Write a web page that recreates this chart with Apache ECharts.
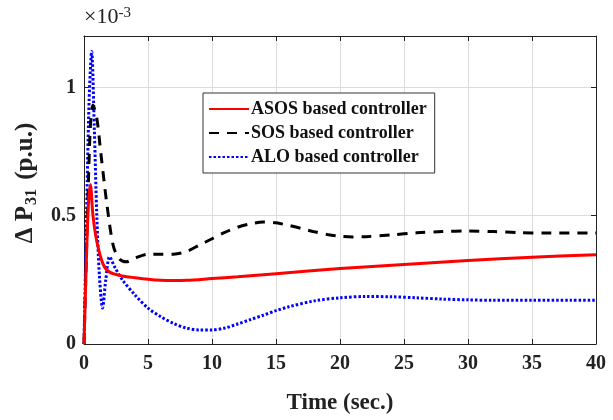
<!DOCTYPE html>
<html>
<head>
<meta charset="utf-8">
<script src="https://cdn.jsdelivr.net/npm/echarts@6/dist/echarts.min.js"></script>
<style>
    html, body { margin: 0; padding: 0; background: #fff; }
    #chart { width: 613px; height: 420px; }
</style>
</head>
<body>
<div id="chart"></div>
<script>
    // values in units of 1e-3 p.u.
    var asosTime = [0, 0.2, 0.35, 0.5, 0.7, 1, 1.5, 2, 3, 4, 5, 6, 7, 8, 10, 12, 15, 20, 25, 30, 35, 40];
    var asosVal = [0, 0.35, 0.55, 0.62, 0.5, 0.4, 0.31, 0.28, 0.265, 0.258, 0.252, 0.248, 0.247, 0.248, 0.255, 0.262, 0.274, 0.294, 0.31, 0.325, 0.338, 0.348];

    var sosTime = [0, 0.3, 0.5, 0.7, 1, 1.3, 1.8, 2.3, 2.8, 3.3, 4, 5, 6, 7, 8, 9, 10, 11, 12, 13, 14, 15, 16, 17, 18, 19, 20, 21, 22, 24, 26, 28, 30, 32, 34, 36, 40];
    var sosVal = [0, 0.55, 0.85, 0.93, 0.88, 0.75, 0.54, 0.38, 0.33, 0.32, 0.335, 0.35, 0.35, 0.35, 0.36, 0.385, 0.41, 0.435, 0.455, 0.468, 0.475, 0.472, 0.462, 0.45, 0.437, 0.427, 0.42, 0.417, 0.418, 0.425, 0.433, 0.438, 0.44, 0.438, 0.434, 0.432, 0.432];

    var aloTime = [0, 0.2, 0.4, 0.6, 0.8, 1.0, 1.2, 1.45, 1.7, 2.0, 2.4, 3, 4, 5, 6, 7, 8, 9, 10, 11, 12, 13, 14, 15, 16, 18, 20, 22, 24, 26, 28, 30, 32, 35, 38, 40];
    var aloVal = [0, 0.5, 0.95, 1.14, 0.85, 0.5, 0.27, 0.14, 0.25, 0.34, 0.3, 0.25, 0.19, 0.14, 0.106, 0.08, 0.062, 0.055, 0.055, 0.062, 0.078, 0.095, 0.112, 0.13, 0.145, 0.168, 0.18, 0.185, 0.184, 0.18, 0.175, 0.172, 0.17, 0.17, 0.17, 0.17];

    var seriesNames = ['ASOS based controller', 'SOS based controller', 'ALO based controller'];

    function pairs(t, v) {
        var out = [];
        for (var i = 0; i < t.length; i++) out.push([t[i], v[i]]);
        return out;
    }

    var font = 'Liberation Serif';
    var myChart = echarts.init(document.getElementById('chart'));

    var option = {
        animation: false,
        textStyle: { fontFamily: font },
        grid: { left: 84, right: 17, top: 36, bottom: 76 },
        graphic: [{
            type: 'text',
            left: 84,
            top: 6,
            style: {
                text: '{a|×10}{b|-3}',
                rich: {
                    a: { fontFamily: font, fontSize: 22, fill: '#222' },
                    b: { fontFamily: font, fontSize: 15, fill: '#222', verticalAlign: 'top', padding: [0, 0, 6, 0] }
                }
            }
        }],
        legend: {
            show: true,
            orient: 'vertical',
            left: 203,
            top: 93,
            padding: [7, 8, 7, 5],
            itemWidth: 40,
            itemHeight: 14,
            itemGap: 6,
            borderColor: '#333',
            borderWidth: 1,
            backgroundColor: '#fff',
            itemStyle: { opacity: 0 },
            textStyle: { fontFamily: font, fontWeight: 'bold', fontSize: 18, color: '#111', padding: [0, 0, 0, -3] },
            data: seriesNames
        },
        xAxis: [{
            type: 'value',
            min: 0, max: 40, interval: 5,
            name: 'Time (sec.)',
            nameLocation: 'middle',
            nameGap: 48,
            nameTextStyle: { fontFamily: font, fontWeight: 'bold', fontSize: 23, color: '#222' },
            axisLine: { show: true, lineStyle: { color: '#222', width: 1 } },
            axisTick: { show: true, inside: true, length: 5, lineStyle: { color: '#222' } },
            axisLabel: { fontFamily: font, fontWeight: 'bold', fontSize: 20, color: '#222', margin: 10 },
            splitLine: { show: true, lineStyle: { color: '#dcdcdc', width: 1 } }
        }, {
            type: 'value',
            position: 'top',
            min: 0, max: 40, interval: 5,
            axisLine: { show: true, onZero: false, lineStyle: { color: '#222', width: 1 } },
            axisTick: { show: true, inside: true, length: 5, lineStyle: { color: '#222' } },
            axisLabel: { show: false },
            splitLine: { show: false }
        }],
        yAxis: [{
            type: 'value',
            min: 0, max: 1.2, interval: 0.5,
            name: '{a|Δ P}{s|31}{a| (p.u.)}',
            nameLocation: 'middle',
            nameGap: 42,
            nameRotate: 90,
            nameTextStyle: {
                padding: [0, 0, 0, 14],
                rich: {
                    a: { fontFamily: font, fontWeight: 'bold', fontSize: 25, color: '#222' },
                    s: { fontFamily: font, fontWeight: 'bold', fontSize: 16, color: '#222', verticalAlign: 'bottom', padding: [14, 3, 0, 1] }
                }
            },
            axisLine: { show: true, onZero: false, lineStyle: { color: '#222', width: 1 } },
            axisTick: { show: true, inside: true, length: 5, lineStyle: { color: '#222' } },
            axisLabel: { fontFamily: font, fontWeight: 'bold', fontSize: 20, color: '#222', margin: 8, showMaxLabel: false },
            splitLine: { show: true, lineStyle: { color: '#dcdcdc', width: 1 } }
        }, {
            type: 'value',
            position: 'right',
            min: 0, max: 1.2, interval: 0.5,
            axisLine: { show: true, onZero: false, lineStyle: { color: '#222', width: 1 } },
            axisTick: { show: true, inside: true, length: 5, lineStyle: { color: '#222' } },
            axisLabel: { show: false },
            splitLine: { show: false }
        }],
        series: [{
            name: seriesNames[0],
            type: 'line',
            symbol: 'none',
            smooth: 0.3,
            data: pairs(asosTime, asosVal),
            lineStyle: { color: '#ff0000', width: 3, type: 'solid' },
            itemStyle: { color: '#ff0000' },
            z: 4
        }, {
            name: seriesNames[1],
            type: 'line',
            symbol: 'none',
            smooth: 0.3,
            data: pairs(sosTime, sosVal),
            lineStyle: { color: '#000', width: 3, type: [10, 8] },
            itemStyle: { color: '#000' },
            z: 3
        }, {
            name: seriesNames[2],
            type: 'line',
            symbol: 'none',
            smooth: 0.3,
            data: pairs(aloTime, aloVal),
            lineStyle: { color: '#0000ff', width: 3, type: [2.5, 2] },
            itemStyle: { color: '#0000ff' },
            z: 2
        }]
    };

    myChart.setOption(option);
</script>
</body>
</html>
